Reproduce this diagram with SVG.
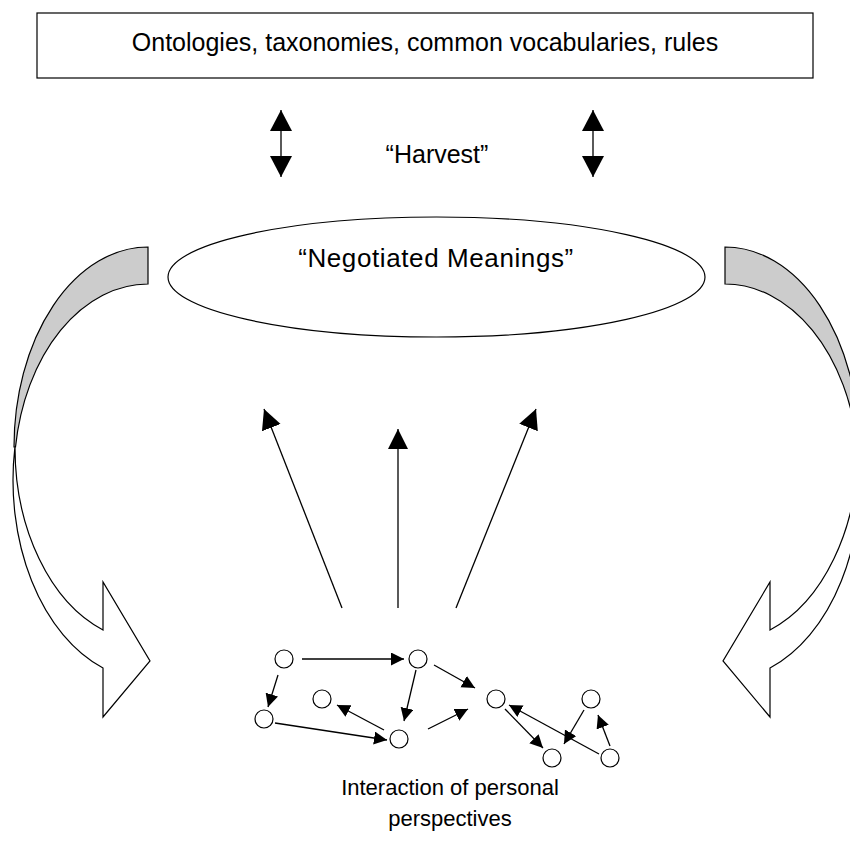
<svg xmlns="http://www.w3.org/2000/svg" width="850" height="859" viewBox="0 0 850 859">
<style>
text{font-family:"Liberation Sans",Arial,sans-serif;fill:#000;text-anchor:middle}
.ln{stroke:#000;stroke-width:1.3;fill:none}
.sm{marker-end:url(#hs)}
.bg{marker-end:url(#hb)}
.shape{stroke:#000;stroke-width:1.2}
</style>
<defs>
<marker id="hs" markerUnits="userSpaceOnUse" markerWidth="14" markerHeight="14" refX="13" refY="6.5" orient="auto"><path d="M0,0 L13,6.5 L0,13 z" fill="#000"/></marker>
<marker id="hb" markerUnits="userSpaceOnUse" markerWidth="21" markerHeight="21" refX="20" refY="10" orient="auto"><path d="M0,0 L20,10 L0,20 z" fill="#000"/></marker>
<marker id="hd" markerUnits="userSpaceOnUse" markerWidth="23" markerHeight="23" refX="21" refY="11" orient="auto-start-reverse"><path d="M0,0 L21,11 L0,22 z" fill="#000"/></marker>
<g id="curved">
<path class="shape" fill="#cccccc" d="M148,247 A134,200 0 0 0 14,447 L15.5,447 A134,191 0 0 1 148,284 Z"/>
<path class="shape" fill="#fff" d="M14.9,447 A137,200 0 0 0 103,668 L103,717 L150,661 L103,582 L103,630 A133,194 0 0 1 15,447 Z"/>
</g>
</defs>
<g id="top-box">
<rect x="37" y="13" width="776" height="65" fill="#fff" stroke="#000" stroke-width="1.2"/>
<text x="425" y="51" font-size="25">Ontologies, taxonomies, common vocabularies, rules</text>
</g>
<g id="harvest">
<text x="437" y="163" font-size="25">“Harvest”</text>
</g>
<g id="negotiated">
<ellipse cx="436.5" cy="277" rx="268.5" ry="60" fill="#fff" stroke="#000" stroke-width="1.2"/>
<text x="436" y="267" font-size="26" letter-spacing="0.6">“Negotiated Meanings”</text>
</g>
<g id="left-curved-arrow"><use href="#curved"/></g>
<g id="right-curved-arrow"><use href="#curved" transform="translate(873,0) scale(-1,1)"/></g>
<g id="connectors">
<line class="ln" x1="281" y1="110" x2="281" y2="177" marker-start="url(#hd)" marker-end="url(#hd)"/>
<line class="ln" x1="593" y1="110" x2="593" y2="177" marker-start="url(#hd)" marker-end="url(#hd)"/>
<line class="ln bg" x1="342" y1="608" x2="264" y2="409"/>
<line class="ln bg" x1="398" y1="608" x2="398" y2="429"/>
<line class="ln bg" x1="456" y1="608" x2="536" y2="409"/>
<line class="ln sm" x1="302" y1="659" x2="404" y2="659"/>
<line class="ln sm" x1="278" y1="675" x2="268" y2="707"/>
<line class="ln sm" x1="275" y1="723" x2="387" y2="740"/>
<line class="ln sm" x1="384" y1="730" x2="337" y2="705"/>
<line class="ln sm" x1="416" y1="670" x2="404" y2="721"/>
<line class="ln sm" x1="434" y1="665" x2="475" y2="688"/>
<line class="ln sm" x1="428" y1="729" x2="468" y2="709"/>
<line class="ln sm" x1="505" y1="709" x2="543" y2="748"/>
<line class="ln sm" x1="599" y1="754" x2="509" y2="705"/>
<line class="ln sm" x1="584" y1="710" x2="564" y2="744"/>
<line class="ln sm" x1="610" y1="746" x2="598" y2="715"/>
</g>
<g id="nodes" fill="#fff" stroke="#000" stroke-width="1.2">
<circle id="n1" cx="284" cy="659" r="9"/>
<circle id="n2" cx="418" cy="659" r="9"/>
<circle id="n3" cx="322" cy="699" r="9"/>
<circle id="n4" cx="264" cy="719" r="9"/>
<circle id="n5" cx="399" cy="739" r="9"/>
<circle id="n6" cx="496" cy="699" r="9"/>
<circle id="n7" cx="591" cy="699" r="9"/>
<circle id="n8" cx="552" cy="758" r="9"/>
<circle id="n9" cx="610" cy="758" r="9"/>
</g>
<g id="caption">
<text x="450" y="795" font-size="22">Interaction of personal</text>
<text x="450" y="826" font-size="22">perspectives</text>
</g>
</svg>
